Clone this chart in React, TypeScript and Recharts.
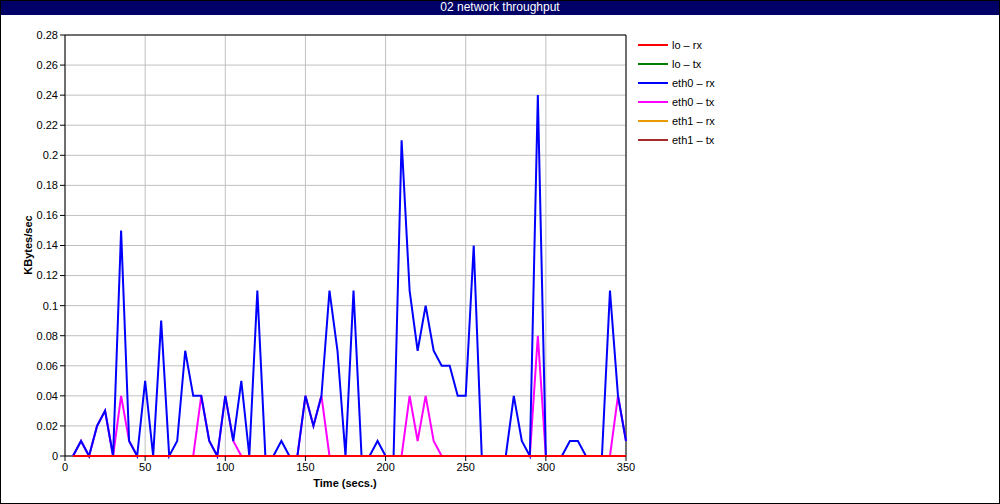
import {
  CartesianGrid,
  Line,
  LineChart,
  ReferenceLine,
  XAxis,
  YAxis,
} from "recharts";

const times = [
  5, 10, 15, 20, 25, 30, 35, 40, 45, 50, 55, 60, 65, 70, 75, 80, 85, 90, 95, 100,
  105, 110, 115, 120, 125, 130, 135, 140, 145, 150, 155, 160, 165, 170, 175, 180,
  185, 190, 195, 200, 205, 210, 215, 220, 225, 230, 235, 240, 245, 250, 255, 260,
  265, 270, 275, 280, 285, 290, 295, 300, 305, 310, 315, 320, 325, 330, 335, 340,
  345, 350,
];

const loRx = [
  0, 0, 0, 0, 0, 0, 0, 0, 0, 0, 0, 0, 0, 0, 0, 0, 0, 0, 0, 0, 0, 0, 0, 0, 0, 0, 0, 0, 0, 0, 0, 0, 0, 0, 0,
  0, 0, 0, 0, 0, 0, 0, 0, 0, 0, 0, 0, 0, 0, 0, 0, 0, 0, 0, 0, 0, 0, 0, 0, 0, 0, 0, 0, 0, 0, 0, 0, 0, 0, 0,
];
const loTx = [
  0, 0, 0, 0, 0, 0, 0, 0, 0, 0, 0, 0, 0, 0, 0, 0, 0, 0, 0, 0, 0, 0, 0, 0, 0, 0, 0, 0, 0, 0, 0, 0, 0, 0, 0,
  0, 0, 0, 0, 0, 0, 0, 0, 0, 0, 0, 0, 0, 0, 0, 0, 0, 0, 0, 0, 0, 0, 0, 0, 0, 0, 0, 0, 0, 0, 0, 0, 0, 0, 0,
];
const eth0Rx = [
  0, 0.01, 0, 0.02, 0.03, 0,
  0.15, 0.01, 0, 0.05, 0, 0.09,
  0, 0.01, 0.07, 0.04, 0.04, 0.01,
  0, 0.04, 0.01, 0.05, 0, 0.11,
  0, 0, 0.01, 0, 0, 0.04,
  0.02, 0.04, 0.11, 0.07, 0, 0.11,
  0, 0, 0.01, 0, 0, 0.21,
  0.11, 0.07, 0.1, 0.07, 0.06, 0.06,
  0.04, 0.04, 0.14, 0, 0, 0,
  0, 0.04, 0.01, 0, 0.24, 0,
  0, 0, 0.01, 0.01, 0, 0,
  0, 0.11, 0.04, 0.01,
];
const eth0Tx = [
  0, 0.01, 0, 0.02, 0.03, 0,
  0.04, 0.01, 0, 0, 0, 0,
  0, 0, 0, 0, 0.04, 0.01,
  0, 0.04, 0.01, 0, 0, 0,
  0, 0, 0, 0, 0, 0.04,
  0.02, 0.04, 0, 0, 0, 0,
  0, 0, 0, 0, 0, 0,
  0.04, 0.01, 0.04, 0.01, 0, 0,
  0, 0, 0, 0, 0, 0,
  0, 0, 0, 0, 0.08, 0,
  0, 0, 0, 0, 0, 0,
  0, 0, 0.04, 0.01,
];
const eth1Rx = [
  0, 0, 0, 0, 0, 0, 0, 0, 0, 0, 0, 0, 0, 0, 0, 0, 0, 0, 0, 0, 0, 0, 0, 0, 0, 0, 0, 0, 0, 0, 0, 0, 0, 0, 0,
  0, 0, 0, 0, 0, 0, 0, 0, 0, 0, 0, 0, 0, 0, 0, 0, 0, 0, 0, 0, 0, 0, 0, 0, 0, 0, 0, 0, 0, 0, 0, 0, 0, 0, 0,
];
const eth1Tx = [
  0, 0, 0, 0, 0, 0, 0, 0, 0, 0, 0, 0, 0, 0, 0, 0, 0, 0, 0, 0, 0, 0, 0, 0, 0, 0, 0, 0, 0, 0, 0, 0, 0, 0, 0,
  0, 0, 0, 0, 0, 0, 0, 0, 0, 0, 0, 0, 0, 0, 0, 0, 0, 0, 0, 0, 0, 0, 0, 0, 0, 0, 0, 0, 0, 0, 0, 0, 0, 0, 0,
];

const xTicks = [0, 50, 100, 150, 200, 250, 300, 350];
const yTicks = [0, 0.02, 0.04, 0.06, 0.08, 0.1, 0.12, 0.14, 0.16, 0.18, 0.2, 0.22, 0.24, 0.26, 0.28];

const series = [
  { key: "loRx", name: "lo – rx", color: "#ff0000", values: loRx },
  { key: "loTx", name: "lo – tx", color: "#008000", values: loTx },
  { key: "eth0Rx", name: "eth0 – rx", color: "#0000ff", values: eth0Rx },
  { key: "eth0Tx", name: "eth0 – tx", color: "#ff00ff", values: eth0Tx },
  { key: "eth1Rx", name: "eth1 – rx", color: "#e89a00", values: eth1Rx },
  { key: "eth1Tx", name: "eth1 – tx", color: "#a52a2a", values: eth1Tx },
];

const data = times.map((t, i) => {
  const row: Record<string, number> = { t };
  series.forEach((s) => {
    row[s.key] = s.values[i];
  });
  return row;
});

const FONT = "'Liberation Sans', Arial, sans-serif";

export default function App() {
  // lo rx sits on top in the picture, so draw the list back to front
  const drawn = [...series].reverse();
  return (
    <div style={{ position: "absolute", left: 0, top: 0, width: 1000, height: 504, background: "#fff", fontFamily: FONT }}>
      <div
        style={{
          position: "absolute",
          left: 0,
          top: 0,
          width: 1000,
          height: 15,
          background: "#000066",
          color: "#fff",
          fontSize: 12,
          lineHeight: "15px",
          textAlign: "center",
        }}
      >
        02 network throughput
      </div>
      <div style={{ position: "absolute", left: 0, top: 0 }}>
        <LineChart width={1000} height={504} data={data} margin={{ top: 35, right: 374, bottom: 18, left: 0 }}>
          <CartesianGrid stroke="#c0c0c0" strokeWidth={1} />
          <XAxis
            dataKey="t"
            type="number"
            domain={[0, 350]}
            ticks={xTicks}
            interval={0}
            height={30}
            tickSize={5}
            tick={{ fill: "#000", fontSize: 11, fontFamily: FONT }}
            axisLine={false}
            tickLine={{ stroke: "#000" }}
            label={() => (
              <text x={345} y={487} textAnchor="middle" fontSize={11} fontWeight="bold" fontFamily={FONT} fill="#000">
                Time (secs.)
              </text>
            )}
          />
          <YAxis
            type="number"
            domain={[0, 0.28]}
            ticks={yTicks}
            interval={0}
            width={65}
            tickSize={5}
            tick={{ fill: "#000", fontSize: 11, fontFamily: FONT }}
            axisLine={{ stroke: "#000" }}
            tickLine={{ stroke: "#000" }}
            label={() => (
              <text
                x={32}
                y={245}
                transform="rotate(-90, 32, 245)"
                textAnchor="middle"
                fontSize={11}
                fontWeight="bold"
                fontFamily={FONT}
                fill="#000"
              >
                KBytes/sec
              </text>
            )}
          />
          <ReferenceLine y={0.28} stroke="#000" strokeWidth={1} />
          <ReferenceLine x={350} stroke="#000" strokeWidth={1} />
          <ReferenceLine segment={[{ x: 0, y: 0 }, { x: 5, y: 0 }]} stroke="#000" strokeWidth={1} />
          {drawn.map((s) => (
            <Line
              key={s.key}
              type="linear"
              dataKey={s.key}
              name={s.name}
              stroke={s.color}
              strokeWidth={2}
              dot={false}
              activeDot={false}
              isAnimationActive={false}
            />
          ))}
        </LineChart>
      </div>
      <div style={{ position: "absolute", left: 638, top: 35 }}>
        {series.map((s) => (
          <div key={s.key} style={{ display: "flex", alignItems: "center", height: 19, fontSize: 11, color: "#000" }}>
            <div style={{ width: 30, height: 2, background: s.color, marginRight: 4 }} />
            <span>{s.name}</span>
          </div>
        ))}
      </div>
      <div
        style={{
          position: "absolute",
          left: 0,
          top: 0,
          width: 1000,
          height: 504,
          boxSizing: "border-box",
          border: "1px solid #000",
          pointerEvents: "none",
        }}
      />
    </div>
  );
}
